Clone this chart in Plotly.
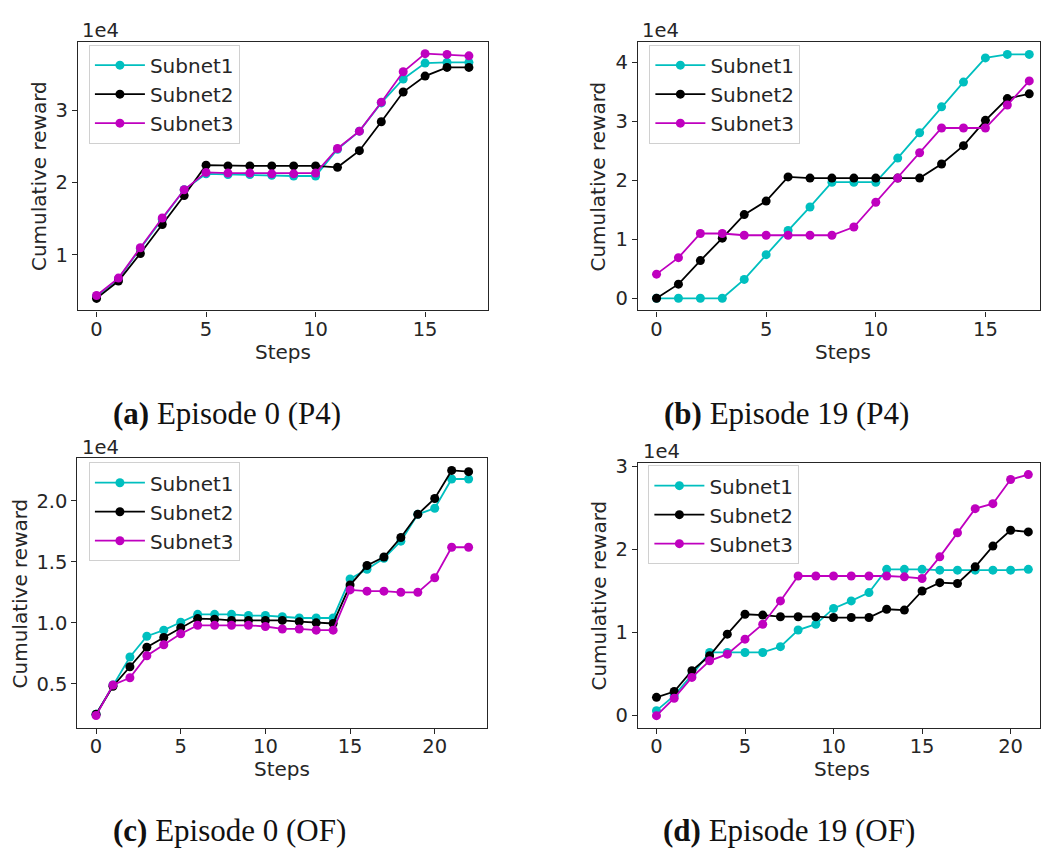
import plotly.graph_objects as go

W, H = 1041, 849

# ---------------- data (cumulative reward, raw units) ----------------
steps_p4 = list(range(18))
steps_of = list(range(23))
steps_of19 = list(range(22))

# (a) Episode 0 (P4)
a_subnet1 = [4300, 6700, 10900, 14900, 19000, 21200, 21100, 21100, 21000, 20900, 20900,
             24600, 27100, 31000, 34300, 36500, 36600, 36600]
a_subnet2 = [4000, 6400, 10200, 14200, 18200, 22400, 22300, 22300, 22300, 22300, 22300,
             22100, 24400, 28400, 32500, 34700, 35900, 35900]
a_subnet3 = [4400, 6800, 11000, 15100, 19000, 21400, 21300, 21300, 21200, 21200, 21300,
             24700, 27100, 31100, 35300, 37800, 37700, 37500]

# (b) Episode 19 (P4)
b_subnet1 = [0, 0, 0, 0, 3200, 7400, 11500, 15500, 19700, 19700, 19700,
             23800, 28100, 32500, 36700, 40800, 41400, 41400]
b_subnet2 = [0, 2400, 6400, 10200, 14200, 16500, 20600, 20400, 20400, 20400, 20400,
             20400, 20400, 22800, 25900, 30200, 33900, 34700]
b_subnet3 = [4100, 6900, 11000, 11000, 10700, 10700, 10700, 10700, 10700, 12100, 16300,
             20400, 24700, 28900, 28900, 28900, 32800, 36900]

# (c) Episode 0 (OF)
c_subnet1 = [2500, 4900, 7200, 8900, 9400, 10050, 10700, 10700, 10700, 10600, 10600, 10500,
             10400, 10400, 10400, 13600, 14400, 15300, 16700, 18900, 19400, 21800, 21800]
c_subnet2 = [2500, 4800, 6400, 8000, 8800, 9600, 10350, 10300, 10200, 10200, 10200, 10200,
             10100, 10000, 9950, 13100, 14700, 15400, 17000, 18900, 20200, 22500, 22400]
c_subnet3 = [2400, 4900, 5500, 7300, 8200, 9100, 9800, 9800, 9800, 9800, 9700, 9500,
             9500, 9400, 9400, 12700, 12600, 12600, 12500, 12500, 13700, 16200, 16200]

# (d) Episode 19 (OF)
d_subnet1 = [600, 2400, 4900, 7600, 7600, 7600, 7600, 8300, 10300, 11000, 12900,
             13800, 14800, 17600, 17600, 17600, 17500, 17500, 17500, 17500, 17500, 17600]
d_subnet2 = [2200, 2900, 5400, 7200, 9800, 12200, 12100, 11900, 11900, 11900, 11800,
             11800, 11800, 12800, 12700, 15000, 16000, 15900, 17900, 20400, 22300, 22100]
d_subnet3 = [0, 2100, 4600, 6600, 7400, 9200, 11000, 13800, 16800, 16800, 16800,
             16800, 16800, 16800, 16700, 16500, 19100, 22000, 24900, 25500, 28400, 29000]

series_names = ["Subnet1", "Subnet2", "Subnet3"]
series_colors = ["#00BFBF", "#000000", "#BF00BF"]

x_ticks_p4 = [0, 5, 10, 15]
x_ticks_of = [0, 5, 10, 15, 20]
a_yticks, a_ylabels = [10000, 20000, 30000], ["1", "2", "3"]
b_yticks, b_ylabels = [0, 10000, 20000, 30000, 40000], ["0", "1", "2", "3", "4"]
c_yticks, c_ylabels = [5000, 10000, 15000, 20000], ["0.5", "1.0", "1.5", "2.0"]
d_yticks, d_ylabels = [0, 10000, 20000, 30000], ["0", "1", "2", "3"]

captions = [("(a)", "Episode 0 (P4)"), ("(b)", "Episode 19 (P4)"),
            ("(c)", "Episode 0 (OF)"), ("(d)", "Episode 19 (OF)")]

# ---------------- layout helpers (pixel -> paper) ----------------
def px(x):
    return x / W

def py(y):
    return 1 - y / H

panels = [
    dict(xd=(78, 488), yd=(35, 306), xr=[-0.85, 17.85], yr=[2330, 39450],
         leg=(89, 38), x=steps_p4, ys=[a_subnet1, a_subnet2, a_subnet3],
         xt=x_ticks_p4, yt=(a_yticks, a_ylabels), ytitle_x=39, off=(80, 24), cap=(111, 410)),
    dict(xd=(638.5, 1041), yd=(35, 306), xr=[-0.85, 17.49], yr=[-2070, 43550],
         leg=(650, 38), x=steps_p4, ys=[b_subnet1, b_subnet2, b_subnet3],
         xt=x_ticks_p4, yt=(b_yticks, b_ylabels), ytitle_x=599, off=(641, 24), cap=(663, 410)),
    dict(xd=(77.5, 487.7), yd=(455, 726.7), xr=[-1.1, 23.1], yr=[1400, 23500],
         leg=(89, 459), x=steps_of, ys=[c_subnet1, c_subnet2, c_subnet3],
         xt=x_ticks_of, yt=(c_yticks, c_ylabels), ytitle_x=19.5, off=(80, 444), cap=(111, 830)),
    dict(xd=(638.5, 1041), yd=(459.3, 726.7), xr=[-1.05, 21.66], yr=[-1450, 30450],
         leg=(649, 462), x=steps_of19, ys=[d_subnet1, d_subnet2, d_subnet3],
         xt=x_ticks_of, yt=(d_yticks, d_ylabels), ytitle_x=600, off=(642, 448.5), cap=(662, 830)),
]

FONT = "DejaVu Sans"
AX_COLOR = "#262626"
TXT = "#262626"

fig = go.Figure()
annotations = []
layout = dict(width=W, height=H, margin=dict(l=0, r=0, t=0, b=0),
              paper_bgcolor="white", plot_bgcolor="white",
              font=dict(family=FONT, size=19, color=TXT))

for i, p in enumerate(panels):
    n = i + 1
    xa = "x" if n == 1 else f"x{n}"
    ya = "y" if n == 1 else f"y{n}"
    leg = "legend" if n == 1 else f"legend{n}"
    for name, color, yv in zip(series_names, series_colors, p["ys"]):
        fig.add_trace(go.Scatter(
            x=p["x"], y=yv, name=name, mode="lines+markers",
            line=dict(color=color, width=1.8),
            marker=dict(color=color, size=9),
            xaxis=xa, yaxis=ya, legend=leg))
    axis_common = dict(showline=True, linecolor=AX_COLOR, linewidth=1.2, mirror=True,
                       ticks="outside", ticklen=5, tickwidth=1.2, tickcolor=AX_COLOR,
                       showgrid=False, zeroline=False,
                       tickfont=dict(family=FONT, size=19.5, color=TXT))
    layout["xaxis" if n == 1 else f"xaxis{n}"] = dict(
        domain=[px(p["xd"][0]), px(p["xd"][1])], range=p["xr"],
        anchor=ya, tickvals=p["xt"], ticktext=[str(t) for t in p["xt"]],
        ticklabelstandoff=-4, **axis_common)
    layout["yaxis" if n == 1 else f"yaxis{n}"] = dict(
        domain=[py(p["yd"][1]), py(p["yd"][0])], range=p["yr"],
        anchor=xa, tickvals=p["yt"][0], ticktext=p["yt"][1], **axis_common)
    layout[leg] = dict(x=px(p["leg"][0]), y=py(p["leg"][1]), xanchor="left", yanchor="top",
                       bgcolor="rgba(255,255,255,0.85)", bordercolor="#d0d0d0", borderwidth=1,
                       font=dict(family=FONT, size=20, color=TXT), itemwidth=50,
                       tracegroupgap=0)
    annotations.append(dict(text="1e4", x=px(p["off"][0]), y=py(p["off"][1]), xref="paper",
                            yref="paper", xanchor="left", yanchor="middle", showarrow=False,
                            font=dict(family=FONT, size=19.5, color=TXT)))
    ymid = (p["yd"][0] + p["yd"][1]) / 2
    annotations.append(dict(text="Cumulative reward", x=px(p["ytitle_x"]), y=py(ymid),
                            xref="paper", yref="paper", xanchor="center", yanchor="middle",
                            textangle=-90, showarrow=False,
                            font=dict(family=FONT, size=20, color=TXT)))
    x0px = p["xd"][0]
    x_scale = (p["xd"][1] - p["xd"][0]) / (p["xr"][1] - p["xr"][0])
    xmid_data = (p["x"][0] + p["x"][-1]) / 2
    xmid_px = x0px + (xmid_data - p["xr"][0]) * x_scale
    annotations.append(dict(text="Steps", x=px(xmid_px), y=py(p["yd"][1] + 42),
                            xref="paper", yref="paper", xanchor="center", yanchor="middle",
                            showarrow=False, font=dict(family=FONT, size=20, color=TXT)))
    lab, txt = captions[i]
    annotations.append(dict(text=f"<b>{lab}</b> {txt}", x=px(p["cap"][0]), y=py(p["cap"][1]),
                            xref="paper", yref="paper", xanchor="left", yanchor="middle",
                            showarrow=False,
                            font=dict(family="Liberation Serif", size=31, color="#111111")))

layout["annotations"] = annotations
layout["showlegend"] = True
fig.update_layout(**layout)

fig.write_html("out.html", config={"displayModeBar": False},
               post_script="document.body.style.margin='0';document.body.style.padding='0';")
